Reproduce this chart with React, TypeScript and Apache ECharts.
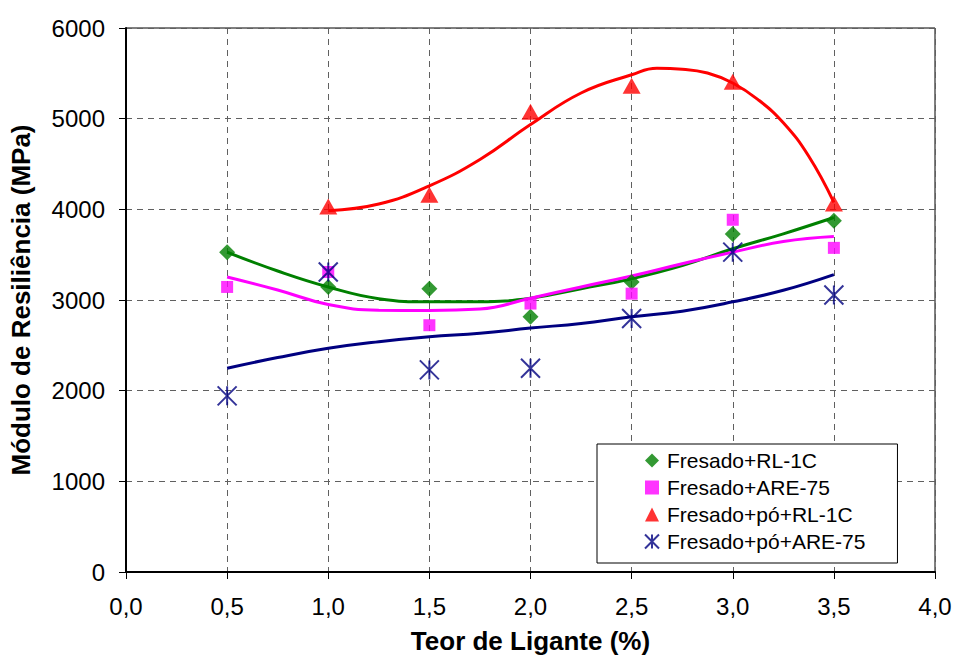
import React, { useEffect, useRef } from "react";
import * as echarts from "echarts";

const xPoints = [0.5, 1.0, 1.5, 2.0, 2.5, 3.0, 3.5];
const rl1c = [3527, 3144, 3125, 2815, 3198, 3728, 3874];
const are75 = [3144, 3309, 2722, 2961, 3070, 3885, 3575];
const poRl1c = [null, 4030, 4160, 5077, 5364, 5408, 4063];
const poAre75 = [1943, 3309, 2229, 2248, 2796, 3528, 3055];

const trendX = [0.5, 0.75, 1.0, 1.25, 1.5, 1.75, 2.0, 2.25, 2.5, 2.75, 3.0, 3.25, 3.5];
const trendRl1c = [3527, 3320, 3144, 3015, 2980, 2980, 3020, 3125, 3235, 3380, 3565, 3730, 3910];
const trendAre75 = [3254, 3110, 2950, 2888, 2885, 2900, 3020, 3144, 3265, 3400, 3528, 3645, 3700];
const trendPoAre75 = [2248, 2365, 2467, 2540, 2595, 2632, 2690, 2742, 2815, 2877, 2980, 3107, 3280];
const trendPoRlX = [1.0, 1.25, 1.5, 1.75, 2.0, 2.25, 2.5, 2.625, 2.75, 2.875, 3.0, 3.125, 3.25, 3.375, 3.5];
const trendPoRl1c = [3985, 4058, 4259, 4550, 4935, 5283, 5484, 5556, 5546, 5503, 5393, 5210, 4955, 4588, 4077];

const seriesNames = ["Fresado+RL-1C", "Fresado+ARE-75", "Fresado+pó+RL-1C", "Fresado+pó+ARE-75"];
const xTicks = ["0,0", "0,5", "1,0", "1,5", "2,0", "2,5", "3,0", "3,5", "4,0"];

const GREEN = "#008000";
const MAGENTA = "#FF00FF";
const RED = "#FF0000";
const NAVY = "#000080";
const FONT = "'Liberation Sans', Arial, sans-serif";
const ASTERISK = "path://M0,0L20,20M20,0L0,20M10,0L10,20";

const pair = (xs: number[], ys: (number | null)[]) =>
  xs.map((x, i) => [x, ys[i]]).filter((p) => p[1] !== null);

export default function App() {
  const ref = useRef<HTMLDivElement>(null);
  useEffect(() => {
    if (!ref.current) return;
    const chart = echarts.init(ref.current, null, { renderer: "svg" });
    const trend = (data: any[], color: string) => ({
      type: "line",
      data,
      symbol: "none",
      smooth: 0.45,
      silent: true,
      lineStyle: { color, width: 3 },
      z: 2,
    });
    chart.setOption({
      animation: false,
      backgroundColor: "#fff",
      grid: {
        left: 125,
        right: 20,
        top: 28,
        bottom: 84,
        show: true,
        borderColor: "#000",
        borderWidth: 1,
      },
      xAxis: {
        type: "value",
        min: 0,
        max: 4,
        interval: 0.5,
        name: "Teor de Ligante (%)",
        nameLocation: "middle",
        nameGap: 56,
        nameTextStyle: { fontFamily: FONT, fontSize: 26, fontWeight: "bold", color: "#000", verticalAlign: "top" },
        axisLine: { lineStyle: { color: "#000", width: 2 } },
        axisTick: { length: 7, lineStyle: { color: "#000" } },
        axisLabel: {
          margin: 22,
          fontFamily: FONT,
          fontSize: 24,
          color: "#000",
          formatter: (v: number) => xTicks[Math.round(v / 0.5)],
        },
        splitLine: { show: true, lineStyle: { color: "#606060", type: [6, 5], width: 1 } },
      },
      yAxis: {
        type: "value",
        min: 0,
        max: 6000,
        interval: 1000,
        name: "Módulo de Resiliência (MPa)",
        nameLocation: "middle",
        nameGap: 92,
        nameTextStyle: { fontFamily: FONT, fontSize: 26, fontWeight: "bold", color: "#000" },
        axisLine: { show: true, lineStyle: { color: "#000", width: 2 } },
        axisTick: { show: true, length: 7, lineStyle: { color: "#000" } },
        axisLabel: {
          margin: 21,
          fontFamily: FONT,
          fontSize: 24,
          color: "#000",
          formatter: (v: number) => String(v),
        },
        splitLine: { show: true, lineStyle: { color: "#606060", type: [6, 5], width: 1 } },
      },
      legend: {
        data: seriesNames,
        orient: "vertical",
        left: 597,
        top: 444,
        padding: [6, 32, 11, 47],
        itemGap: 6,
        itemWidth: 14,
        itemHeight: 14,
        backgroundColor: "#fff",
        borderColor: "#000",
        borderWidth: 1,
        textStyle: { fontFamily: FONT, fontSize: 21, color: "#000", lineHeight: 21, padding: [0, 0, 0, 3] },
      },
      series: [
        trend(pair(trendX, trendRl1c), GREEN),
        trend(pair(trendX, trendAre75), MAGENTA),
        trend(pair(trendPoRlX, trendPoRl1c), RED),
        trend(pair(trendX, trendPoAre75), NAVY),
        {
          name: seriesNames[0],
          type: "scatter",
          data: pair(xPoints, rl1c),
          symbol: "diamond",
          symbolSize: 16,
          itemStyle: { color: GREEN },
          z: 3,
        },
        {
          name: seriesNames[1],
          type: "scatter",
          data: pair(xPoints, are75),
          symbol: "rect",
          symbolSize: 12,
          itemStyle: { color: MAGENTA },
          z: 3,
        },
        {
          name: seriesNames[2],
          type: "scatter",
          data: pair(xPoints, poRl1c),
          symbol: "triangle",
          symbolSize: [18, 16],
          itemStyle: { color: RED },
          z: 3,
        },
        {
          name: seriesNames[3],
          type: "scatter",
          data: pair(xPoints, poAre75),
          symbol: ASTERISK,
          symbolSize: 19,
          itemStyle: { color: "rgba(0,0,0,0)", borderColor: NAVY, borderWidth: 2 },
          z: 3,
        },
      ],
    });
    return () => chart.dispose();
  }, []);
  return <div ref={ref} style={{ width: 955, height: 659, position: "absolute", left: 0, top: 0 }} />;
}
